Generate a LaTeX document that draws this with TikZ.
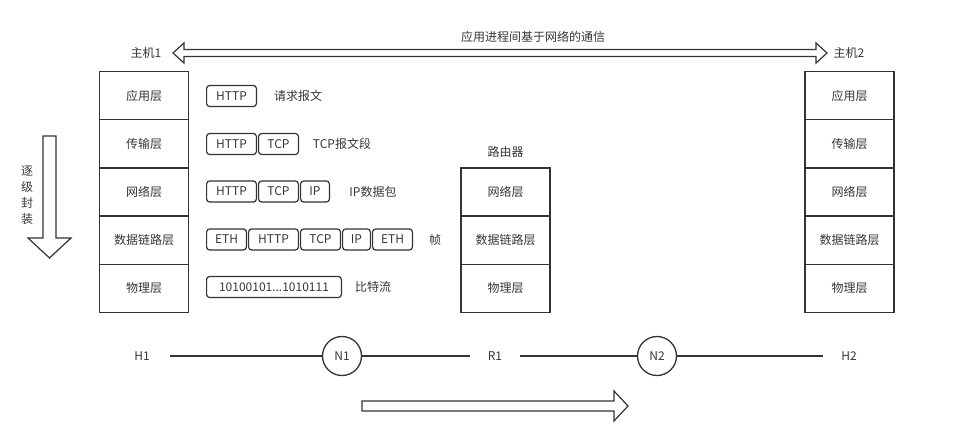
\documentclass[tikz,border=0pt]{standalone}
\usepackage{fontspec}
\setmainfont{Noto Sans CJK SC}
\usetikzlibrary{positioning}
\definecolor{ln}{HTML}{333333}
\definecolor{tx}{HTML}{363636}
\begin{document}
\begin{tikzpicture}[x=1pt,y=-1pt,
  every node/.style={font=\fontsize{12}{16}\selectfont, text=tx},
  layer/.style={draw=ln, line width=1.3pt, minimum width=89pt, minimum height=48.2pt, inner sep=0pt},
  pkt/.style={draw=ln, line width=1.2pt, rounded corners=3pt, minimum height=21pt, inner sep=0pt},
  hollow/.style={draw=ln, line width=1.2pt, fill=white, line join=miter},
  link/.style={draw=ln, line width=1.3pt},
  endpt/.style={inner xsep=18pt},
  hub/.style={circle, draw=ln, line width=1.3pt, minimum size=39pt, inner sep=0pt}]
\useasboundingbox (0,0) rectangle (978,437);

% top double arrow
\draw[hollow] (173,53) -- (184,43) -- (184,49.5) -- (816,49.5) -- (816,43) -- (827,53)
  -- (816,63) -- (816,56.5) -- (184,56.5) -- (184,63) -- cycle;
\node (toplbl) at (533,37) {应用进程间基于网络的通信};
\node (host1) at (146,53) {主机1};
\node (host2) at (849,53) {主机2};

% host 1 stack
\node[layer] (a1) at (144,95.6) {应用层};
\node[layer] (a2) at (144,143.8) {传输层};
\node[layer] (a3) at (144,192.0) {网络层};
\node[layer] (a4) at (144,240.2) {数据链路层};
\node[layer] (a5) at (144,288.4) {物理层};

% host 2 stack
\node[layer] (b1) at (849.5,95.6) {应用层};
\node[layer] (b2) at (849.5,143.8) {传输层};
\node[layer] (b3) at (849.5,192.0) {网络层};
\node[layer] (b4) at (849.5,240.2) {数据链路层};
\node[layer] (b5) at (849.5,288.4) {物理层};

% router
\node (rlbl) at (505.5,152) {路由器};
\node[layer] (r3) at (505.5,192.0) {网络层};
\node[layer] (r4) at (505.5,240.2) {数据链路层};
\node[layer] (r5) at (505.5,288.4) {物理层};

% packets
\node[pkt, minimum width=49.8pt, anchor=west] (p11) at (206,96) {HTTP};
\node (t1) at (298,96) {请求报文};

\node[pkt, minimum width=49.8pt, anchor=west] (p21) at (206,144) {HTTP};
\node[pkt, minimum width=39.8pt, right=1pt of p21] (p22) {TCP};
\node (t2) at (342,144) {TCP报文段};

\node[pkt, minimum width=49.8pt, anchor=west] (p31) at (206,191.5) {HTTP};
\node[pkt, minimum width=39.8pt, right=1pt of p31] (p32) {TCP};
\node[pkt, minimum width=28.8pt, right=1pt of p32] (p33) {IP};
\node (t3) at (373,191.5) {IP数据包};

\node[pkt, minimum width=39.8pt, anchor=west] (p41) at (206,239.5) {ETH};
\node[pkt, minimum width=49.8pt, right=1pt of p41] (p42) {HTTP};
\node[pkt, minimum width=39.8pt, right=1pt of p42] (p43) {TCP};
\node[pkt, minimum width=27.8pt, right=1pt of p43] (p44) {IP};
\node[pkt, minimum width=39.8pt, right=1pt of p44] (p45) {ETH};
\node (t4) at (435,239.5) {帧};

\node[pkt, minimum width=134.8pt, anchor=west] (p51) at (206,287) {10100101...1010111};
\node (t5) at (373,287) {比特流};

% left down arrow
\draw[hollow] (43,136) -- (56,136) -- (56,238) -- (71,238) -- (49.5,258) -- (28,238) -- (43,238) -- cycle;
\node[align=center] (enc) at (27,195) {逐\\级\\封\\装};

% bottom line
\node[endpt, inner xsep=20pt] (H1) at (142,356) {H1};
\node[hub] (N1) at (342,356) {N1};
\node[endpt] (R1) at (495,356) {R1};
\node[hub] (N2) at (657,356) {N2};
\node[endpt] (H2) at (849,356) {H2};
\draw[link] (H1) -- (N1);
\draw[link] (N1) -- (R1);
\draw[link] (R1) -- (N2);
\draw[link] (N2) -- (H2);

% bottom right arrow
\draw[hollow] (362,401) -- (614,401) -- (614,391) -- (628,406) -- (614,421) -- (614,411) -- (362,411) -- cycle;
\end{tikzpicture}
\end{document}
